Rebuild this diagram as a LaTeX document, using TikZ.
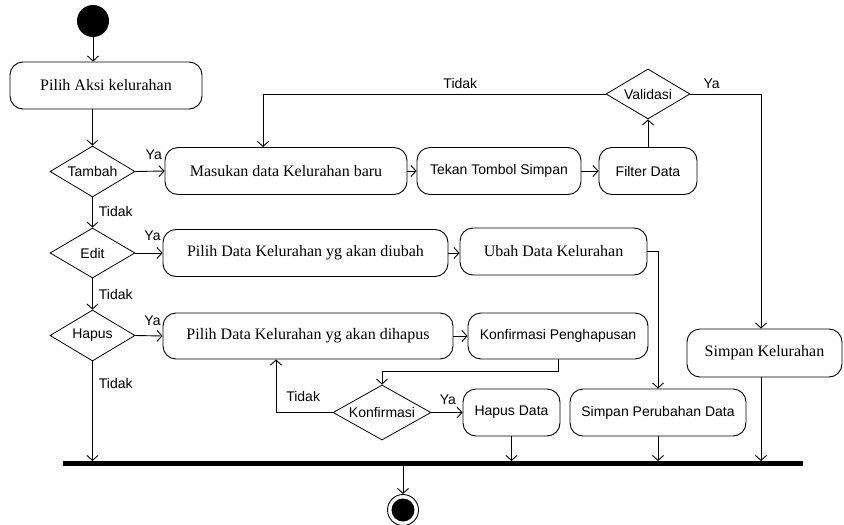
\documentclass[tikz,border=0pt]{standalone}
\usepackage{fontspec}
\setmainfont{Liberation Serif}
\newfontfamily\arialf{Liberation Sans}
\usetikzlibrary{shapes.geometric,arrows.meta}
\begin{document}
\begin{tikzpicture}[x=1pt,y=-1pt,
  act/.style={draw, rectangle, rounded corners=13pt, minimum height=47pt, inner sep=0pt, line width=0.9pt, font=\fontsize{16}{18}\selectfont},
  actsans/.style={act, font=\arialf\fontsize{14}{16}\selectfont},
  dec/.style={draw, diamond, aspect=1.7, inner sep=0pt, line width=0.8pt, font=\arialf\fontsize{14}{16}\selectfont},
  lbl/.style={font=\arialf\fontsize{14}{16}\selectfont, inner sep=0pt},
  flow/.style={line width=0.9pt, -{Straight Barb[length=5pt,width=11pt]}},
  plain/.style={line width=0.9pt}
]
\useasboundingbox (0,0) rectangle (844,525);

% nodes
\node[circle, fill=black, minimum size=32pt, inner sep=0pt] (start) at (93,21) {};
\node[act, minimum width=192pt] (pilih) at (106,85.5) {Pilih Aksi kelurahan};
\node[dec, minimum width=85pt, minimum height=51pt] (tambah) at (92.5,171.5) {Tambah};
\node[act, minimum width=242pt] (masukan) at (286,171) {Masukan data Kelurahan baru};
\node[actsans, minimum width=164pt] (tekan) at (499,171) {Tekan Tombol Simpan};
\node[actsans, minimum width=98pt] (filter) at (648,171) {Filter Data};
\node[dec, minimum width=84pt, minimum height=50pt] (validasi) at (648,94) {Validasi};
\node[act, minimum width=155pt, minimum height=48pt] (simpank) at (764.5,353) {Simpan Kelurahan};

\node[dec, minimum width=85pt, minimum height=50pt] (edit) at (92.5,253) {Edit};
\node[act, minimum width=285pt] (ubahpilih) at (305.5,253) {Pilih Data Kelurahan yg akan diubah};
\node[act, minimum width=187pt] (ubah) at (553.5,251.5) {Ubah Data Kelurahan};

\node[dec, minimum width=85pt, minimum height=51pt] (hapus) at (92.5,335.5) {Hapus};
\node[act, minimum width=290pt, minimum height=46pt] (hapuspilih) at (308,336) {Pilih Data Kelurahan yg akan dihapus};
\node[actsans, minimum width=180pt, minimum height=46pt] (konfpeng) at (558,336) {Konfirmasi Penghapusan};
\node[dec, minimum width=98pt, minimum height=55pt] (konf) at (382,412.5) {Konfirmasi};
\node[actsans, minimum width=97pt] (hapusdata) at (511.5,412.5) {Hapus Data};
\node[actsans, minimum width=176pt] (simpanper) at (658,412.5) {Simpan Perubahan Data};

\node[rectangle, fill=black, minimum width=740pt, minimum height=4.5pt, inner sep=0pt] (bar) at (433,463.5) {};
\node[circle, draw, line width=0.9pt, minimum size=31pt, inner sep=0pt] (end) at (403,510) {};
\node[circle, fill=black, minimum size=23pt, inner sep=0pt] (endin) at (end) {};

% connectors
\draw[flow] (start.south) -- (start.south |- pilih.north);
\draw[flow] (tambah.north |- pilih.south) -- (tambah.north);
\draw[flow] (tambah.east) -- node[lbl, pos=0.63, anchor=south, yshift=11pt] {Ya} (masukan.west);
\draw[flow] (masukan.east) -- (tekan.west);
\draw[flow] (tekan.east) -- (filter.west);
\draw[flow] (filter.north) -- (validasi.south);
\draw[flow] (validasi.west) -| node[lbl, pos=0.212, anchor=south, yshift=5pt] {Tidak} ([xshift=-23pt]masukan.north);
\draw[flow] (validasi.east) -| node[lbl, pos=0.15, anchor=south, yshift=5pt] {Ya} ([xshift=-3.5pt]simpank.north);
\draw[flow] ([xshift=-3.5pt]simpank.south) -- ([xshift=-3.5pt]simpank.south |- bar.north);

\draw[flow] (tambah.south) -- node[lbl, pos=0.47, anchor=west, xshift=6pt] {Tidak} (edit.north);
\draw[flow] (edit.east) -- node[lbl, pos=0.63, anchor=south, yshift=12pt] {Ya} (ubahpilih.west);
\draw[flow] (ubahpilih.east) -- (ubahpilih.east -| ubah.west);
\draw[flow] (ubah.east) -| (simpanper.north);
\draw[flow] (simpanper.south) -- (simpanper.south |- bar.north);

\draw[flow] (edit.south) -- node[lbl, pos=0.5, anchor=west, xshift=6pt] {Tidak} (hapus.north);
\draw[flow] (hapus.east) -- node[lbl, pos=0.63, anchor=south, yshift=10pt] {Ya} (hapuspilih.west);
\draw[flow] (hapuspilih.east) -- (konfpeng.west);
\draw[flow] (konfpeng.south) -- ++(0,12) -| (konf.north);
\draw[flow] (konf.west) -| node[lbl, pos=0.26, anchor=south, yshift=10pt] {Tidak} ([xshift=-32pt]hapuspilih.south);
\draw[flow] (konf.east) -- node[lbl, pos=0.53, anchor=south, yshift=7pt] {Ya} (hapusdata.west);
\draw[flow] (hapusdata.south) -- (hapusdata.south |- bar.north);
\draw[flow] (hapus.south) -- node[lbl, pos=0.225, anchor=west, xshift=6pt] {Tidak} (hapus.south |- bar.north);

\draw[flow] (end.north |- bar.south) -- (end.north);
\end{tikzpicture}
\end{document}
